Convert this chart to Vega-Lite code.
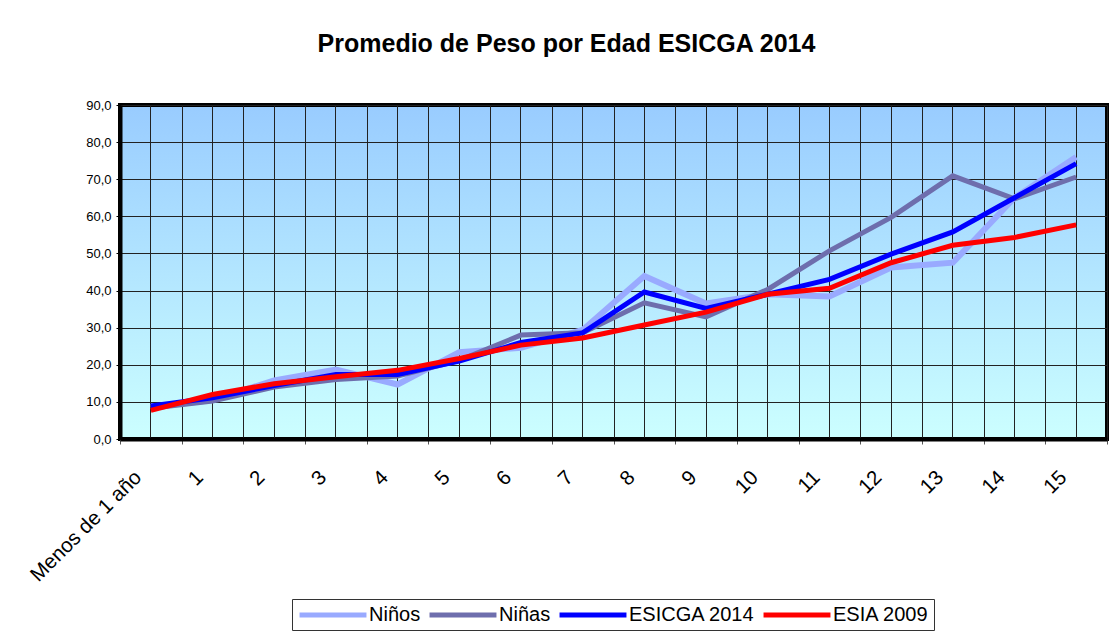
{
  "$schema": "https://vega.github.io/schema/vega-lite/v6.json",
  "width": 987,
  "height": 334,
  "padding": {"left": 3, "top": 32, "right": 3, "bottom": 5},
  "background": "white",
  "title": {
    "text": "Promedio de Peso por Edad ESICGA 2014",
    "font": "Liberation Sans",
    "fontSize": 25,
    "fontWeight": "bold",
    "color": "#000000",
    "anchor": "middle",
    "offset": 42,
    "dx": -47
  },
  "data": {
    "values": [
      {"edad": "Menos de 1 año", "serie": "Niños", "peso": 8.6},
      {"edad": "1", "serie": "Niños", "peso": 10.5},
      {"edad": "2", "serie": "Niños", "peso": 15.8},
      {"edad": "3", "serie": "Niños", "peso": 18.7},
      {"edad": "4", "serie": "Niños", "peso": 14.7},
      {"edad": "5", "serie": "Niños", "peso": 23.4},
      {"edad": "6", "serie": "Niños", "peso": 24.6},
      {"edad": "7", "serie": "Niños", "peso": 29.4},
      {"edad": "8", "serie": "Niños", "peso": 43.9},
      {"edad": "9", "serie": "Niños", "peso": 36.5},
      {"edad": "10", "serie": "Niños", "peso": 39.0},
      {"edad": "11", "serie": "Niños", "peso": 38.4},
      {"edad": "12", "serie": "Niños", "peso": 46.2},
      {"edad": "13", "serie": "Niños", "peso": 47.5},
      {"edad": "14", "serie": "Niños", "peso": 65.0},
      {"edad": "15", "serie": "Niños", "peso": 76.0},
      {"edad": "Menos de 1 año", "serie": "Niñas", "peso": 8.3},
      {"edad": "1", "serie": "Niñas", "peso": 10.2},
      {"edad": "2", "serie": "Niñas", "peso": 14.0},
      {"edad": "3", "serie": "Niñas", "peso": 16.0},
      {"edad": "4", "serie": "Niñas", "peso": 17.0},
      {"edad": "5", "serie": "Niñas", "peso": 21.2},
      {"edad": "6", "serie": "Niñas", "peso": 28.0},
      {"edad": "7", "serie": "Niñas", "peso": 28.6},
      {"edad": "8", "serie": "Niñas", "peso": 36.7},
      {"edad": "9", "serie": "Niñas", "peso": 32.9},
      {"edad": "10", "serie": "Niñas", "peso": 40.3},
      {"edad": "11", "serie": "Niñas", "peso": 50.7},
      {"edad": "12", "serie": "Niñas", "peso": 59.7},
      {"edad": "13", "serie": "Niñas", "peso": 70.9},
      {"edad": "14", "serie": "Niñas", "peso": 64.7},
      {"edad": "15", "serie": "Niñas", "peso": 70.6},
      {"edad": "Menos de 1 año", "serie": "ESICGA 2014", "peso": 8.9},
      {"edad": "1", "serie": "ESICGA 2014", "peso": 11.1},
      {"edad": "2", "serie": "ESICGA 2014", "peso": 14.4},
      {"edad": "3", "serie": "ESICGA 2014", "peso": 17.4},
      {"edad": "4", "serie": "ESICGA 2014", "peso": 17.4},
      {"edad": "5", "serie": "ESICGA 2014", "peso": 21.0},
      {"edad": "6", "serie": "ESICGA 2014", "peso": 26.0},
      {"edad": "7", "serie": "ESICGA 2014", "peso": 28.6},
      {"edad": "8", "serie": "ESICGA 2014", "peso": 39.6},
      {"edad": "9", "serie": "ESICGA 2014", "peso": 35.2},
      {"edad": "10", "serie": "ESICGA 2014", "peso": 39.0},
      {"edad": "11", "serie": "ESICGA 2014", "peso": 43.0},
      {"edad": "12", "serie": "ESICGA 2014", "peso": 49.8},
      {"edad": "13", "serie": "ESICGA 2014", "peso": 55.8},
      {"edad": "14", "serie": "ESICGA 2014", "peso": 65.0},
      {"edad": "15", "serie": "ESICGA 2014", "peso": 74.2},
      {"edad": "Menos de 1 año", "serie": "ESIA 2009", "peso": 7.7},
      {"edad": "1", "serie": "ESIA 2009", "peso": 12.0},
      {"edad": "2", "serie": "ESIA 2009", "peso": 14.9},
      {"edad": "3", "serie": "ESIA 2009", "peso": 16.8},
      {"edad": "4", "serie": "ESIA 2009", "peso": 18.5},
      {"edad": "5", "serie": "ESIA 2009", "peso": 21.7},
      {"edad": "6", "serie": "ESIA 2009", "peso": 25.3},
      {"edad": "7", "serie": "ESIA 2009", "peso": 27.2},
      {"edad": "8", "serie": "ESIA 2009", "peso": 30.7},
      {"edad": "9", "serie": "ESIA 2009", "peso": 34.2},
      {"edad": "10", "serie": "ESIA 2009", "peso": 39.0},
      {"edad": "11", "serie": "ESIA 2009", "peso": 40.6},
      {"edad": "12", "serie": "ESIA 2009", "peso": 47.5},
      {"edad": "13", "serie": "ESIA 2009", "peso": 52.2},
      {"edad": "14", "serie": "ESIA 2009", "peso": 54.3},
      {"edad": "15", "serie": "ESIA 2009", "peso": 57.7}
    ]
  },
  "encoding": {
    "y": {
      "field": "peso", "type": "quantitative",
      "scale": {"domain": [0, 90], "nice": false, "zero": true},
      "axis": {
        "title": null, "values": [0,10,20,30,40,50,60,70,80,90],
        "labelExpr": "replace(format(datum.value, '.1f'), '.', ',')",
        "labelOverlap": false,
        "grid": true, "gridColor": "#222222", "gridWidth": 1,
        "domain": true, "domainColor": "#000000", "domainWidth": 4,
        "tickSize": 4, "tickColor": "#000000",
        "labelFont": "Liberation Sans", "labelFontSize": 13, "labelColor": "#000000",
        "labelPadding": 5, "minExtent": 117, "maxExtent": 117
      }
    },
    "color": {
      "field": "serie", "type": "nominal",
      "scale": {"domain": ["Niños", "Niñas", "ESICGA 2014", "ESIA 2009"],
                "range": ["#99AAFF", "#6E6EAD", "#0000FF", "#FF0000"]},
      "legend": {"title": null, "orient": "none", "legendX": 172, "legendY": 494}
    }
  },
  "layer": [
    {
      "transform": [{"filter": "datum.serie === 'Niños'"}],
      "mark": {"type": "line", "strokeWidth": 6, "strokeJoin": "miter"},
      "encoding": {
        "x": {
          "field": "edad", "type": "ordinal",
          "scale": {"type": "band", "paddingInner": 0, "paddingOuter": 0,
            "domain": ["Menos de 1 año","1","2","3","4","5","6","7","8","9","10","11","12","13","14","15"]},
          "axis": {
            "orient": "bottom", "title": null, "tickBand": "extent",
            "grid": true, "gridColor": "#222222", "gridWidth": 1,
            "domain": true, "domainColor": "#000000", "domainWidth": 4,
            "ticks": true, "tickSize": 5, "tickColor": "#555555", "tickWidth": 1,
            "labelAngle": -45, "labelAlign": "right", "labelBaseline": "bottom",
            "labelFont": "Liberation Sans", "labelFontSize": 20.5,
            "labelColor": "#000000", "labelPadding": 37, "labelOffset": -6, "labelOverlap": false
          }
        }
      }
    },
    {
      "transform": [{"filter": "datum.serie === 'Niñas'"}],
      "mark": {"type": "line", "strokeWidth": 5, "strokeJoin": "miter"},
      "encoding": {
        "x": {
          "field": "edad", "type": "ordinal",
          "axis": {
            "orient": "top", "title": null, "bandPosition": 0.5,
            "grid": true, "gridColor": "#222222", "gridWidth": 1,
            "domain": false, "ticks": false, "labels": false
          }
        }
      }
    },
    {
      "transform": [{"filter": "datum.serie === 'ESICGA 2014'"}],
      "mark": {"type": "line", "strokeWidth": 5, "strokeJoin": "miter"},
      "encoding": {
        "x": {"field": "edad", "type": "ordinal", "axis": null}
      }
    },
    {
      "transform": [{"filter": "datum.serie === 'ESIA 2009'"}],
      "mark": {"type": "line", "strokeWidth": 5, "strokeJoin": "miter"},
      "encoding": {
        "x": {"field": "edad", "type": "ordinal", "axis": null}
      }
    }
  ],
  "resolve": {"axis": {"x": "independent"}},
  "config": {
    "font": "Liberation Sans",
    "view": {
      "stroke": "#000000",
      "strokeWidth": 4,
      "fill": {
        "gradient": "linear", "x1": 0, "y1": 0, "x2": 0, "y2": 1,
        "stops": [{"offset": 0, "color": "#99CCFF"}, {"offset": 1, "color": "#CCFFFF"}]
      }
    },
    "legend": {
      "direction": "horizontal",
      "symbolType": "M-4,0H4",
      "symbolSize": 280,
      "symbolStrokeWidth": 5,
      "symbolOffset": 25,
      "labelFont": "Liberation Sans",
      "labelFontSize": 20,
      "labelColor": "#000000",
      "labelOffset": 25,
      "columnPadding": -2,
      "padding": 5,
      "strokeColor": "#333333"
    }
  }
}
